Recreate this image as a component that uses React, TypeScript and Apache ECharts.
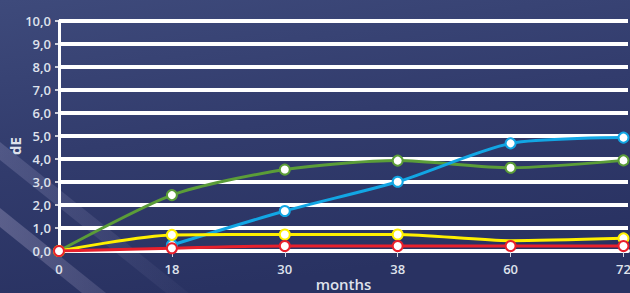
import React, { useEffect, useRef } from "react";
import * as echarts from "echarts";

const months = ["0", "18", "30", "38", "60", "72"];
const yTickLabels = ["0,0", "1,0", "2,0", "3,0", "4,0", "5,0", "6,0", "7,0", "8,0", "9,0", "10,0"];

const greenValues: (number | null)[] = [0, 2.43, 3.54, 3.93, 3.62, 3.94];
const blueValues: (number | null)[] = [null, 0.26, 1.74, 3.01, 4.68, 4.93];
const yellowValues: (number | null)[] = [0, 0.7, 0.72, 0.72, 0.45, 0.55];
const redValues: (number | null)[] = [0, 0.12, 0.22, 0.22, 0.22, 0.22];
const yellowHiddenMarkers = [4];

const labelColor = "#dfe2ec";
const fontFamily = "'Open Sans', 'Noto Sans', sans-serif";

function buildData(values: (number | null)[], hidden: number[] = []) {
  const out: any[] = [];
  values.forEach((v, i) => {
    if (v == null) return;
    if (hidden.includes(i)) out.push({ value: [i, v], symbol: "none" });
    else out.push([i, v]);
  });
  return out;
}

function lineSeries(name: string, color: string, values: (number | null)[], hidden: number[] = []) {
  return {
    name,
    type: "line",
    smooth: 0.25,
    symbol: "circle",
    symbolSize: 10,
    lineStyle: { color, width: 3 },
    itemStyle: { color: "#ffffff", borderColor: color, borderWidth: 2 },
    data: buildData(values, hidden),
  };
}

export default function App() {
  const ref = useRef<HTMLDivElement>(null);

  useEffect(() => {
    document.body.style.margin = "0";
    if (!ref.current) return;
    const chart = echarts.init(ref.current, undefined, { renderer: "svg" });
    const idx = months.map((_, i) => i);
    chart.setOption({
      animation: false,
      backgroundColor: "#313b6c",
      graphic: [
        {
          type: "rect",
          z: -10,
          silent: true,
          shape: { x: 0, y: 0, width: 630, height: 293 },
          style: {
            fill: new echarts.graphic.LinearGradient(0, 0, 0.3, 1, [
              { offset: 0, color: "#3e4a7b" },
              { offset: 0.5, color: "#323c6d" },
              { offset: 1, color: "#293262" },
            ]),
          },
        },
        {
          type: "polygon",
          z: -9,
          silent: true,
          shape: { points: [[0, 142], [230, 326], [230, 344], [0, 160]] },
          style: {
            fill: new echarts.graphic.LinearGradient(0, 0, 1, 0, [
              { offset: 0, color: "rgba(200,195,230,0.2)" },
              { offset: 0.6, color: "rgba(200,195,230,0.07)" },
              { offset: 1, color: "rgba(200,195,230,0)" },
            ]),
          },
        },
        {
          type: "polygon",
          z: -9,
          silent: true,
          shape: { points: [[0, 208], [106, 293], [82, 293], [0, 227]] },
          style: {
            fill: new echarts.graphic.LinearGradient(0, 0, 1, 0, [
              { offset: 0, color: "rgba(215,205,235,0.26)" },
              { offset: 1, color: "rgba(215,205,235,0.14)" },
            ]),
          },
        },
        {
          type: "text",
          z: 10,
          x: 15,
          y: 146,
          rotation: Math.PI / 2,
          style: {
            text: "dE",
            fill: labelColor,
            font: `bold 15px ${fontFamily}`,
            align: "center",
            verticalAlign: "middle",
          },
        },
      ],
      grid: { left: 59, right: 2, top: 21, bottom: 42, containLabel: false, outerBoundsMode: "none" },
      xAxis: {
        type: "value",
        min: 0,
        max: 5.04,
        interval: 1,
        name: "months",
        nameLocation: "middle",
        nameGap: 25,
        nameMoveOverlap: false,
        nameTextStyle: { color: labelColor, fontSize: 15, fontWeight: 600, fontFamily, lineHeight: 15 },
        splitLine: { show: false },
        axisLine: { show: true, lineStyle: { color: "#ffffff", width: 4 } },
        axisTick: {
          show: true,
          length: 6,
          customValues: idx,
          lineStyle: { color: "#d0d4e2", width: 1 },
        },
        axisLabel: {
          customValues: idx,
          color: labelColor,
          fontSize: 13,
          fontWeight: 600,
          fontFamily,
          margin: 11,
          formatter: (v: number) => (Number.isInteger(v) ? months[v] ?? "" : ""),
        },
      },
      yAxis: {
        type: "value",
        min: 0,
        max: 10,
        interval: 1,
        axisLine: { show: true, lineStyle: { color: "#ffffff", width: 3 } },
        axisTick: { show: true, length: 4, lineStyle: { color: "#ffffff", width: 1.5 } },
        splitLine: { show: true, lineStyle: { color: "#ffffff", width: 4 } },
        axisLabel: {
          color: labelColor,
          fontSize: 13,
          fontWeight: 600,
          fontFamily,
          margin: 8,
          formatter: (v: number) => yTickLabels[Math.round(v)] ?? "",
        },
      },
      series: [
        lineSeries("green", "#5b9d38", greenValues),
        lineSeries("blue", "#12a6e4", blueValues),
        lineSeries("yellow", "#fff000", yellowValues, yellowHiddenMarkers),
        lineSeries("red", "#e8202c", redValues),
      ],
    });
    return () => chart.dispose();
  }, []);

  return <div ref={ref} style={{ width: 630, height: 293 }} />;
}
